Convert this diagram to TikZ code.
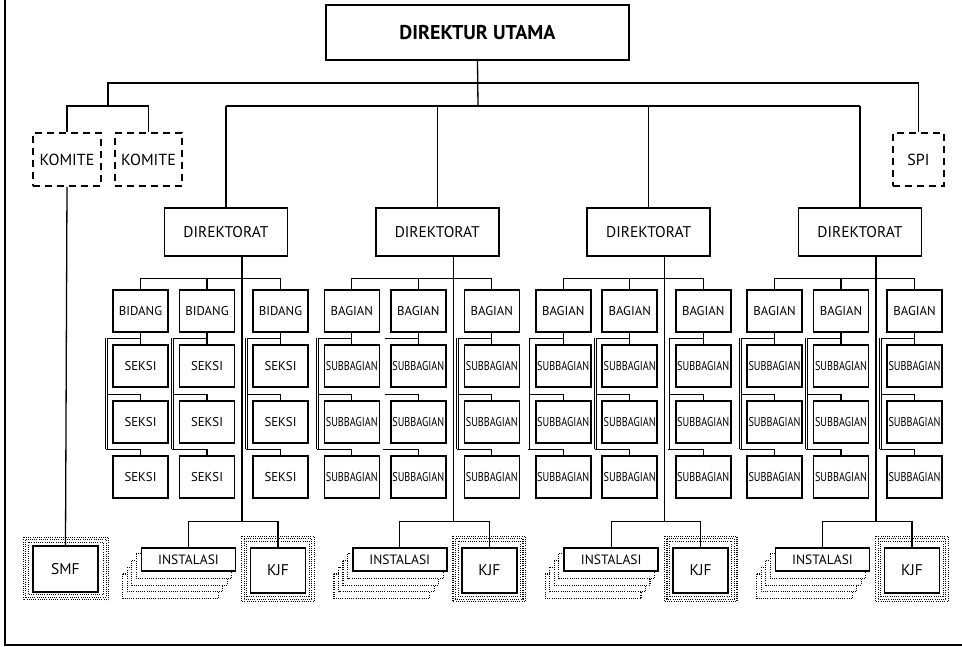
\documentclass[tikz,border=0pt]{standalone}
\usepackage{fontspec}
\setmainfont{PT Sans}
\usetikzlibrary{positioning,calc,patterns,backgrounds}
\tikzset{
  box/.style    ={draw,line width=1.6pt,fill=white,inner sep=0pt,align=center,
                  font=\fontsize{15.5}{17}\selectfont},
  dirbox/.style ={box,minimum width=123pt,minimum height=48pt},
  unit/.style   ={box,minimum width=55pt,minimum height=42pt,font=\fontsize{12.8}{14}\selectfont},
  dashbox/.style={box,dash pattern=on 7pt off 5pt,minimum height=53pt,font=\fontsize{16}{18}\selectfont},
  wire/.style   ={line width=1.3pt},
  rail/.style   ={line width=0.8pt,double,double distance=1.1pt},
  halo/.style   ={draw,dash pattern=on 1pt off 1.2pt,line width=1.1pt,fill=white},
  ghost/.style  ={draw,dash pattern=on 1pt off 1.2pt,line width=1.1pt,fill=white},
}

\begin{document}
\begin{tikzpicture}[x=1pt,y=-1pt]
\useasboundingbox (0,0) rectangle (962,647);
\draw[line width=1.6pt] (5,0) -- (5,645) -- (962,645);

% ---------------- top ----------------------------------------------------
\node[box,minimum width=303pt,minimum height=55pt,
      font=\fontsize{20}{22}\selectfont\bfseries] (du) at (477.5,32.5) {DIREKTUR UTAMA};
\coordinate (j1) at (478,83);
\coordinate (j2) at (478,106);
\draw[wire] (du.south) -- (j2);

% ---------------- komite, spi, smf ---------------------------------------
\node[dashbox,minimum width=68pt] (k1) at (67,159.5) {KOMITE};
\node[dashbox,minimum width=67pt] (k2) at (148.5,159.5) {KOMITE};
\node[dashbox,minimum width=51pt] (spi) at (918.5,159.5) {SPI};
\coordinate (kj) at (108,106);
\draw[wire] (k1.north) |- (kj) -| (k2.north);
\draw[wire] (kj) -- (kj |- j1) -| (spi.north);
\node[box,minimum width=65pt,minimum height=46pt] (smf) at (65.5,569) {SMF};
\begin{scope}[on background layer]
  \foreach \m in {0,2.6,5.2}
    \draw[halo] ([shift={(-9pt+\m pt,8pt-\m pt)}]smf.north west)
      rectangle ([shift={(10pt-\m pt,-7pt+\m pt)}]smf.south east);
\end{scope}
\draw[wire] (k1.south) -- (smf.north);

% ---------------- direktorat ---------------------------------------------
\foreach \i/\cx/\hd/\ch in {1/226/BIDANG/SEKSI,
                            2/437.3/BAGIAN/{\scalebox{.8}[1]{SUBBAGIAN}},
                            3/648.7/BAGIAN/{\scalebox{.8}[1]{SUBBAGIAN}},
                            4/860/BAGIAN/{\scalebox{.8}[1]{SUBBAGIAN}}}{
  \node[dirbox] (d\i) at (\cx,232) {DIREKTORAT};
  \draw[wire] (d\i.north) -- (d\i.north |- j2);
  \foreach \j/\o in {1/-85.5,2/-19,3/54.5}{
    \node[unit] (h\i\j) at (\cx+\o,311) {\hd};
    \foreach \k/\y in {1/366,2/422,3/477}
      {\node[unit] (s\i\j\k) at (\cx+\o,\y) {\ch};}
    \draw[wire] (h\i\j.south) -- (s\i\j1.north);
    \draw[wire] ([yshift=6pt]s\i\j1.north) -| ([xshift=-6pt,yshift=6pt]s\i\j3.north west)
      -- ([yshift=6pt]s\i\j3.north) -- (s\i\j3.north);
    \draw[wire] ([xshift=-6pt,yshift=6pt]s\i\j2.north west) -- ([yshift=6pt]s\i\j2.north)
      -- (s\i\j2.north);
    \draw[rail] ([xshift=-6pt,yshift=6pt]s\i\j1.north west)
      -- ([xshift=-6pt,yshift=6pt]s\i\j3.north west);
  }
  \draw[wire] (h\i1.north) -- ++(0,-11) -| (h\i3.north);
  \draw[wire] (h\i2.north) -- ++(0,-11);
  % instalasi + kjf
  \node[box,minimum width=94pt,minimum height=23pt,font=\fontsize{13.5}{15}\selectfont]
    (ins\i) at (\cx-37.5,559.5) {INSTALASI};
  \node[box,minimum width=55pt,minimum height=45pt] (kjf\i) at (\cx+52,570.5) {KJF};
  \begin{scope}[on background layer]
    \foreach \g in {4,3,2,1}
      \draw[ghost] ([xshift={-4.5*\g},yshift={-6.7*\g}]ins\i.north west)
        rectangle ([xshift={-4.5*\g},yshift={-6.7*\g}]ins\i.south east);
    \foreach \m in {0,2.6,5.2}
      \draw[halo] ([shift={(-8pt+\m pt,11pt-\m pt)}]kjf\i.north west)
        rectangle ([shift={(8pt-\m pt,-8pt+\m pt)}]kjf\i.south east);
  \end{scope}
  \draw[wire] ([xshift=16pt]d\i.south) -- ++(0,265) coordinate (sp\i);
  \draw[wire] (ins\i.north) |- (sp\i) -| (kjf\i.north);
}
\draw[wire] (d1.north |- j2) -- (d4.north |- j2);
\end{tikzpicture}
\end{document}
